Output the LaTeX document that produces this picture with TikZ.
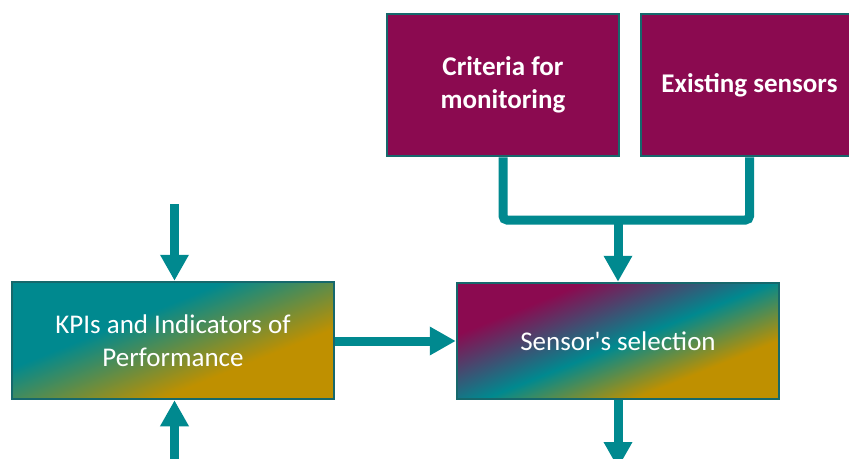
\documentclass[tikz,border=0pt]{standalone}
\usepackage{fontspec}
\setmainfont{Carlito}[Ligatures=TeXOff]
\usetikzlibrary{arrows.meta}
\definecolor{tealc}{RGB}{0,137,143}
\definecolor{borderc}{RGB}{22,104,108}
\definecolor{magc}{RGB}{139,10,80}
\definecolor{goldc}{RGB}{191,144,0}
\pgfdeclarehorizontalshading{kpishade}{100bp}{color(0bp)=(tealc); color(40bp)=(tealc); color(64bp)=(goldc); color(100bp)=(goldc)}
\pgfdeclarehorizontalshading{selshade}{100bp}{color(0bp)=(magc); color(31bp)=(magc); color(51bp)=(tealc); color(67bp)=(goldc); color(100bp)=(goldc)}
\tikzset{
  box/.style={draw=borderc, line width=2.5pt, text=white, align=center, inner sep=0pt, font=\fontsize{27}{33}\selectfont},
  magbox/.style={box, fill=magc, font=\bfseries\fontsize{27}{33}\selectfont},
  conn/.style={draw=tealc, line width=9pt},
  arr/.style={conn, -{Triangle[width=27pt,length=26pt]}},
}
\begin{document}
\begin{tikzpicture}[x=1pt,y=-1pt]
\useasboundingbox (0,0) rectangle (849,458);
\begin{scope}
\clip (0,0) rectangle (849,458);
\node[magbox, minimum width=232pt, minimum height=142pt] (crit) at (503,85) {Criteria for\\monitoring};
\node[magbox, minimum width=217pt, minimum height=142pt] (exist) at (749.5,85) {Existing sensors};
\node[box, shading=kpishade, shading angle=-68, minimum width=322pt, minimum height=117pt] (kpi) at (173,340.5) {KPIs and Indicators of\\Performance};
\node[box, shading=selshade, shading angle=-68, minimum width=322pt, minimum height=116pt] (sel) at (618,341) {Sensor's selection};
\coordinate (join) at (618,220);
\coordinate (kin) at (174.5,204);
\coordinate (kbot) at (174.5,470);
\coordinate (sout) at (618,468);
\draw[conn, rounded corners=4pt] (crit.south) -- (crit.south |- join) -- (join -| exist.south) -- (exist.south);
\draw[arr] (join) -- (sel.north);
\draw[arr] (kin) -- (kpi.north -| kin);
\draw[arr] (kbot) -- (kpi.south -| kbot);
\draw[arr] (kpi.east |- sel.west) -- (sel.west);
\draw[arr] (sel.south) -- (sout);
\end{scope}
\end{tikzpicture}
\end{document}
